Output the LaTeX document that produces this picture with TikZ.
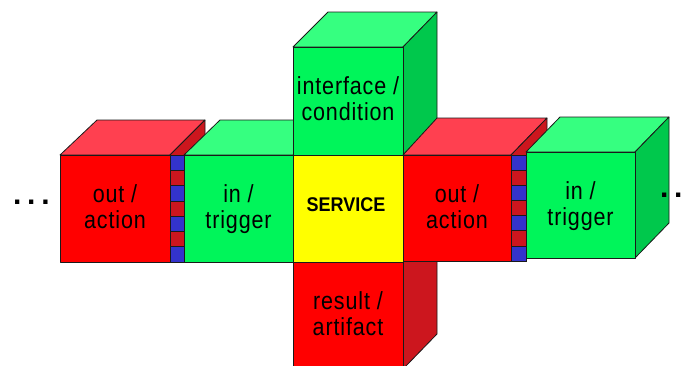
\documentclass[tikz,border=0pt]{standalone}
\usepackage{fontspec}
\usepackage{graphicx}
\setmainfont{Liberation Sans}

\definecolor{redfront}{HTML}{FF0000}
\definecolor{redtop}{HTML}{FF4050}
\definecolor{redside}{HTML}{CC161E}
\definecolor{greenfront}{HTML}{00F55A}
\definecolor{greentop}{HTML}{36FF80}
\definecolor{greenside}{HTML}{00C84C}
\definecolor{svcyellow}{HTML}{FFFF00}
\definecolor{plugblue}{HTML}{3333CC}
\definecolor{edge}{HTML}{1A1A1A}

% two-line face caption, slightly stretched vertically
\newcommand\facetext[2]{\scalebox{1}[1.15]{\begin{tabular}{@{}c@{}}#1\\#2\end{tabular}}}

\tikzset{
  face/.style={draw=edge, line width=0.8pt, line join=round},
  lbl/.style={inner sep=0pt, font=\fontsize{21.5}{22.6}\selectfont\addfontfeatures{LetterSpace=4}},
  svc/.style={inner sep=0pt, font=\fontsize{18}{20}\selectfont\bfseries},
  ellip/.style={inner sep=0pt, font=\fontsize{30}{30}\selectfont\bfseries\addfontfeatures{LetterSpace=19}},
  plug/.style={draw=edge, line width=0.6pt}
}

\begin{document}
\begin{tikzpicture}[x=1pt, y=-1pt]
\useasboundingbox (0,0) rectangle (687,365);
\clip (0,0) rectangle (687,365);

% ---- left out/action cube
\fill[redtop, face] (60,155) -- (97,120) -- (205,120) -- (170,155) -- cycle;
\fill[redside, face] (170,155) -- (205,120) -- (205,227) -- (170,262) -- cycle;
\fill[redfront, face] (60,155) rectangle (170,262);

% ---- left plug strip
\foreach \i in {0,...,6}{
  \pgfmathsetmacro\ya{155+\i*107/7}
  \pgfmathsetmacro\yb{155+(\i+1)*107/7}
  \ifodd\i
    \fill[redside, plug] (170,\ya) rectangle (184,\yb);
  \else
    \fill[plugblue, plug] (170,\ya) rectangle (184,\yb);
  \fi
}

% ---- left in/trigger cube
\fill[greentop, face] (184,155) -- (220,120) -- (328,120) -- (293,155) -- cycle;
\fill[greenfront, face] (184,155) rectangle (293,262);

% ---- interface/condition cube
\fill[greentop, face] (293,47) -- (328,12) -- (437,12) -- (403,47) -- cycle;
\fill[greenside, face] (403,47) -- (437,12) -- (437,120) -- (403,155) -- cycle;
\fill[greenfront, face] (293,47) rectangle (403,155);

% ---- result/artifact cube
\fill[redside, face] (403,262) -- (437,227) -- (437,334) -- (403,369) -- cycle;
\fill[redfront, face] (293,262) rectangle (403,369);

% ---- service core
\fill[svcyellow, face] (293,155) rectangle (403,262);

% ---- right out/action cube
\fill[redtop, face] (403,155) -- (437,118) -- (547,118) -- (511,155) -- cycle;
\fill[redside, face] (511,155) -- (547,118) -- (547,225) -- (511,261) -- cycle;
\fill[redfront, face] (403,155) rectangle (511,261);

% ---- right plug strip
\foreach \i in {0,...,6}{
  \pgfmathsetmacro\ya{155+\i*106/7}
  \pgfmathsetmacro\yb{155+(\i+1)*106/7}
  \ifodd\i
    \fill[redside, plug] (511,\ya) rectangle (526,\yb);
  \else
    \fill[plugblue, plug] (511,\ya) rectangle (526,\yb);
  \fi
}

% ---- right in/trigger cube
\fill[greentop, face] (526,152) -- (560,117) -- (669,117) -- (635,152) -- cycle;
\fill[greenside, face] (635,152) -- (669,117) -- (669,223) -- (635,258) -- cycle;
\fill[greenfront, face] (526,152) rectangle (635,258);

% ---- captions
\node[lbl] (outL) at (115,210) {\facetext{out /}{action}};
\node[lbl] (inL)  at (238.5,210) {\facetext{in /}{trigger}};
\node[lbl] (intf) at (348,102) {\facetext{interface /}{condition}};
\node[svc] (svc)  at (346,205) {\scalebox{1}[1.1]{SERVICE}};
\node[lbl] (outR) at (457,210) {\facetext{out /}{action}};
\node[lbl] (inR)  at (580.5,207) {\facetext{in /}{trigger}};
\node[lbl] (res)  at (348,317) {\facetext{result /}{artifact}};

% ---- continuation marks
\node[ellip, anchor=base west] (dotsL) at (13,204) {...};
\node[ellip, anchor=base west] (dotsR) at (660,197) {...};
\end{tikzpicture}
\end{document}
